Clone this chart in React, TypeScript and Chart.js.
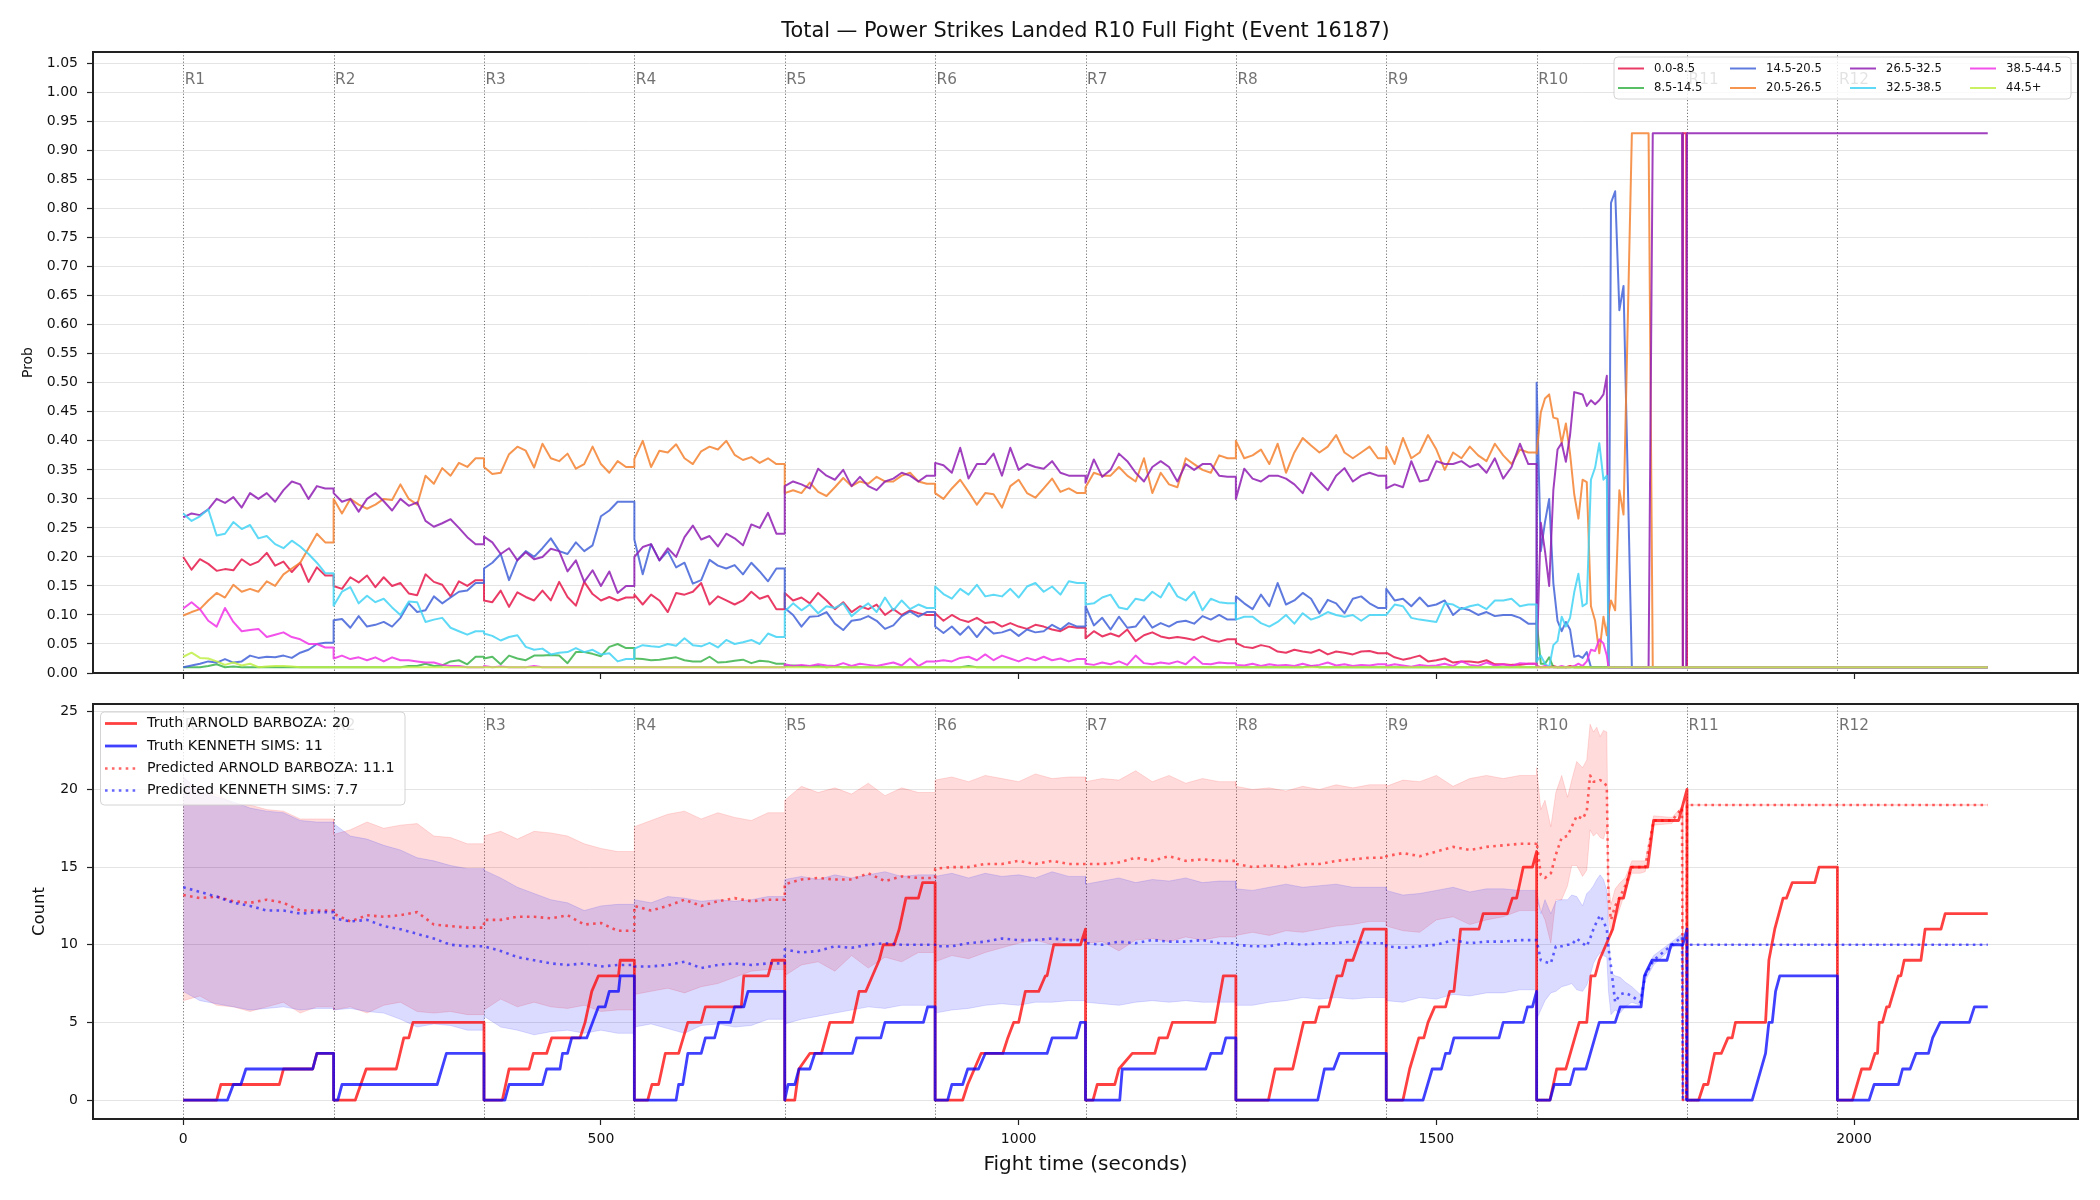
import { useEffect, useRef } from 'react';
import { Chart, registerables } from 'chart.js';

Chart.register(...registerables);

const FONT = "'DejaVu Sans', 'Liberation Sans', sans-serif";
Chart.defaults.font.family = FONT;

const W = 2100;
const H = 1200;
const ROUND_LEN = 180;

// ---- axes ----
const X_MIN = -108;
const X_MAX = 2268;
const timeTicks = [0, 500, 1000, 1500, 2000];
const probTicks = [0.0, 0.05, 0.1, 0.15, 0.2, 0.25, 0.3, 0.35, 0.4, 0.45, 0.5, 0.55, 0.6, 0.65, 0.7, 0.75, 0.8, 0.85, 0.9, 0.95, 1.0, 1.05];
const countTicks = [0, 5, 10, 15, 20, 25];
const roundStarts = [0, 180, 360, 540, 720, 900, 1080, 1260, 1440, 1620, 1800, 1980];
const roundNames = ['R1', 'R2', 'R3', 'R4', 'R5', 'R6', 'R7', 'R8', 'R9', 'R10', 'R11', 'R12'];

// ---- bin probabilities, R1..R9 sampled every 10 s (one row per round) ----
const prob0to8 = [
  [0.200, 0.178, 0.196, 0.188, 0.176, 0.179, 0.177, 0.196, 0.186, 0.192, 0.207, 0.185, 0.192, 0.174, 0.190, 0.157, 0.182, 0.168],
  [0.150, 0.145, 0.165, 0.156, 0.168, 0.148, 0.165, 0.150, 0.155, 0.137, 0.134, 0.170, 0.157, 0.152, 0.132, 0.158, 0.150, 0.160],
  [0.125, 0.122, 0.142, 0.114, 0.139, 0.131, 0.125, 0.142, 0.125, 0.157, 0.131, 0.116, 0.157, 0.136, 0.125, 0.131, 0.125, 0.130],
  [0.135, 0.118, 0.135, 0.125, 0.105, 0.138, 0.135, 0.140, 0.155, 0.118, 0.132, 0.125, 0.118, 0.125, 0.140, 0.128, 0.133, 0.110],
  [0.138, 0.125, 0.130, 0.120, 0.138, 0.125, 0.110, 0.122, 0.105, 0.115, 0.110, 0.118, 0.100, 0.110, 0.100, 0.108, 0.103, 0.100],
  [0.103, 0.090, 0.100, 0.092, 0.088, 0.095, 0.086, 0.088, 0.080, 0.086, 0.080, 0.076, 0.083, 0.080, 0.075, 0.072, 0.080, 0.078],
  [0.060, 0.072, 0.063, 0.068, 0.063, 0.075, 0.055, 0.065, 0.070, 0.063, 0.060, 0.062, 0.060, 0.057, 0.063, 0.057, 0.054, 0.058],
  [0.052, 0.045, 0.043, 0.048, 0.045, 0.037, 0.035, 0.040, 0.037, 0.035, 0.040, 0.032, 0.037, 0.035, 0.032, 0.037, 0.038, 0.034],
  [0.035, 0.027, 0.023, 0.026, 0.030, 0.020, 0.022, 0.025, 0.018, 0.020, 0.020, 0.018, 0.022, 0.015, 0.015, 0.014, 0.014, 0.016],
];
const prob8to14 = [
  [0.010, 0.010, 0.010, 0.012, 0.015, 0.010, 0.011, 0.010, 0.010, 0.010, 0.010, 0.010, 0.010, 0.010, 0.010, 0.010, 0.010, 0.010],
  [0.010, 0.010, 0.010, 0.010, 0.010, 0.010, 0.010, 0.010, 0.010, 0.012, 0.012, 0.016, 0.012, 0.013, 0.020, 0.022, 0.015, 0.028],
  [0.025, 0.028, 0.015, 0.030, 0.025, 0.022, 0.030, 0.030, 0.031, 0.030, 0.017, 0.036, 0.036, 0.033, 0.029, 0.045, 0.050, 0.043],
  [0.025, 0.024, 0.022, 0.023, 0.025, 0.027, 0.022, 0.020, 0.020, 0.028, 0.018, 0.019, 0.021, 0.023, 0.017, 0.021, 0.020, 0.016],
  [0.012, 0.013, 0.012, 0.011, 0.012, 0.010, 0.011, 0.010, 0.010, 0.010, 0.010, 0.010, 0.010, 0.010, 0.010, 0.010, 0.010, 0.010],
  [0.010, 0.010, 0.010, 0.010, 0.012, 0.010, 0.010, 0.010, 0.010, 0.010, 0.010, 0.010, 0.010, 0.010, 0.010, 0.010, 0.010, 0.010],
  [0.010, 0.010, 0.010, 0.010, 0.010, 0.010, 0.010, 0.010, 0.010, 0.010, 0.010, 0.010, 0.010, 0.010, 0.010, 0.010, 0.010, 0.010],
  [0.010, 0.010, 0.010, 0.010, 0.010, 0.010, 0.010, 0.010, 0.010, 0.012, 0.010, 0.010, 0.010, 0.010, 0.010, 0.010, 0.010, 0.010],
  [0.010, 0.010, 0.010, 0.010, 0.010, 0.010, 0.010, 0.010, 0.010, 0.010, 0.010, 0.010, 0.010, 0.010, 0.010, 0.010, 0.010, 0.010],
];
const prob14to20 = [
  [0.010, 0.013, 0.016, 0.020, 0.018, 0.024, 0.018, 0.020, 0.030, 0.026, 0.028, 0.027, 0.030, 0.026, 0.035, 0.040, 0.050, 0.052],
  [0.091, 0.093, 0.078, 0.098, 0.080, 0.083, 0.088, 0.080, 0.095, 0.120, 0.105, 0.108, 0.132, 0.120, 0.130, 0.140, 0.142, 0.155],
  [0.180, 0.190, 0.205, 0.160, 0.195, 0.210, 0.200, 0.215, 0.232, 0.210, 0.205, 0.225, 0.210, 0.220, 0.270, 0.280, 0.295, 0.295],
  [0.230, 0.170, 0.222, 0.194, 0.210, 0.182, 0.190, 0.154, 0.160, 0.195, 0.185, 0.180, 0.186, 0.170, 0.190, 0.175, 0.158, 0.180],
  [0.112, 0.100, 0.080, 0.097, 0.098, 0.105, 0.085, 0.074, 0.090, 0.092, 0.098, 0.090, 0.076, 0.082, 0.098, 0.106, 0.097, 0.105],
  [0.080, 0.069, 0.080, 0.066, 0.080, 0.062, 0.080, 0.068, 0.070, 0.075, 0.064, 0.075, 0.070, 0.072, 0.083, 0.075, 0.086, 0.080],
  [0.115, 0.082, 0.095, 0.075, 0.097, 0.078, 0.080, 0.098, 0.078, 0.086, 0.080, 0.088, 0.090, 0.085, 0.098, 0.092, 0.100, 0.092],
  [0.132, 0.120, 0.110, 0.135, 0.115, 0.155, 0.118, 0.125, 0.138, 0.128, 0.103, 0.126, 0.120, 0.103, 0.128, 0.132, 0.120, 0.112],
  [0.145, 0.125, 0.128, 0.115, 0.130, 0.115, 0.118, 0.125, 0.100, 0.112, 0.108, 0.100, 0.105, 0.098, 0.100, 0.100, 0.095, 0.085],
];
const prob20to26 = [
  [0.099, 0.105, 0.110, 0.125, 0.138, 0.130, 0.152, 0.140, 0.145, 0.140, 0.158, 0.150, 0.170, 0.180, 0.190, 0.215, 0.240, 0.225],
  [0.300, 0.275, 0.300, 0.290, 0.283, 0.290, 0.300, 0.298, 0.325, 0.300, 0.290, 0.340, 0.326, 0.353, 0.340, 0.362, 0.355, 0.370],
  [0.355, 0.343, 0.345, 0.377, 0.390, 0.383, 0.354, 0.395, 0.370, 0.365, 0.378, 0.352, 0.360, 0.390, 0.360, 0.345, 0.365, 0.355],
  [0.369, 0.400, 0.355, 0.383, 0.380, 0.394, 0.370, 0.360, 0.382, 0.390, 0.385, 0.400, 0.376, 0.367, 0.372, 0.362, 0.370, 0.360],
  [0.310, 0.315, 0.310, 0.328, 0.312, 0.305, 0.320, 0.336, 0.322, 0.330, 0.326, 0.338, 0.330, 0.330, 0.340, 0.345, 0.330, 0.326],
  [0.310, 0.300, 0.318, 0.333, 0.312, 0.290, 0.310, 0.308, 0.285, 0.322, 0.333, 0.310, 0.302, 0.318, 0.335, 0.312, 0.318, 0.310],
  [0.320, 0.345, 0.340, 0.340, 0.355, 0.340, 0.330, 0.370, 0.310, 0.345, 0.325, 0.320, 0.370, 0.360, 0.350, 0.345, 0.375, 0.370],
  [0.400, 0.370, 0.375, 0.385, 0.360, 0.395, 0.345, 0.380, 0.405, 0.392, 0.380, 0.390, 0.410, 0.380, 0.370, 0.380, 0.390, 0.370],
  [0.390, 0.360, 0.405, 0.370, 0.380, 0.410, 0.385, 0.350, 0.380, 0.370, 0.390, 0.375, 0.365, 0.395, 0.375, 0.360, 0.385, 0.380],
];
const prob26to32 = [
  [0.268, 0.275, 0.272, 0.282, 0.300, 0.293, 0.303, 0.285, 0.310, 0.300, 0.310, 0.295, 0.315, 0.330, 0.325, 0.300, 0.322, 0.318],
  [0.310, 0.295, 0.300, 0.278, 0.300, 0.310, 0.296, 0.280, 0.300, 0.288, 0.294, 0.262, 0.252, 0.258, 0.265, 0.250, 0.234, 0.222],
  [0.235, 0.225, 0.205, 0.215, 0.194, 0.208, 0.196, 0.200, 0.214, 0.210, 0.175, 0.194, 0.157, 0.177, 0.150, 0.175, 0.138, 0.150],
  [0.200, 0.217, 0.222, 0.194, 0.215, 0.200, 0.234, 0.254, 0.230, 0.236, 0.218, 0.240, 0.232, 0.220, 0.256, 0.250, 0.276, 0.240],
  [0.322, 0.330, 0.325, 0.318, 0.352, 0.340, 0.333, 0.350, 0.322, 0.338, 0.322, 0.315, 0.330, 0.335, 0.345, 0.340, 0.330, 0.340],
  [0.362, 0.358, 0.345, 0.388, 0.335, 0.360, 0.360, 0.378, 0.340, 0.388, 0.350, 0.360, 0.355, 0.352, 0.365, 0.345, 0.340, 0.340],
  [0.328, 0.368, 0.338, 0.350, 0.378, 0.365, 0.345, 0.330, 0.355, 0.365, 0.355, 0.330, 0.360, 0.350, 0.360, 0.360, 0.340, 0.338],
  [0.300, 0.352, 0.335, 0.330, 0.340, 0.340, 0.335, 0.325, 0.310, 0.345, 0.330, 0.315, 0.340, 0.353, 0.330, 0.340, 0.345, 0.340],
  [0.318, 0.325, 0.320, 0.365, 0.330, 0.333, 0.365, 0.360, 0.360, 0.365, 0.355, 0.360, 0.345, 0.370, 0.335, 0.355, 0.395, 0.360],
];
const prob32to38 = [
  [0.275, 0.262, 0.270, 0.282, 0.237, 0.240, 0.260, 0.248, 0.255, 0.232, 0.236, 0.222, 0.215, 0.228, 0.218, 0.205, 0.190, 0.172],
  [0.116, 0.140, 0.148, 0.120, 0.133, 0.122, 0.128, 0.113, 0.100, 0.123, 0.122, 0.088, 0.092, 0.095, 0.078, 0.072, 0.066, 0.072],
  [0.068, 0.064, 0.056, 0.062, 0.065, 0.045, 0.040, 0.042, 0.032, 0.035, 0.036, 0.043, 0.036, 0.040, 0.032, 0.034, 0.020, 0.024],
  [0.042, 0.048, 0.046, 0.045, 0.050, 0.047, 0.060, 0.048, 0.046, 0.052, 0.044, 0.057, 0.050, 0.053, 0.057, 0.050, 0.068, 0.062],
  [0.106, 0.120, 0.108, 0.118, 0.103, 0.115, 0.112, 0.120, 0.098, 0.110, 0.120, 0.105, 0.130, 0.108, 0.125, 0.110, 0.118, 0.112],
  [0.149, 0.136, 0.128, 0.145, 0.135, 0.152, 0.132, 0.135, 0.132, 0.145, 0.130, 0.149, 0.155, 0.140, 0.149, 0.135, 0.158, 0.155],
  [0.118, 0.120, 0.130, 0.135, 0.113, 0.110, 0.128, 0.125, 0.140, 0.130, 0.155, 0.132, 0.125, 0.140, 0.108, 0.128, 0.122, 0.120],
  [0.092, 0.097, 0.097, 0.086, 0.080, 0.088, 0.100, 0.085, 0.103, 0.092, 0.097, 0.105, 0.100, 0.097, 0.100, 0.090, 0.100, 0.100],
  [0.100, 0.118, 0.115, 0.095, 0.092, 0.090, 0.088, 0.120, 0.118, 0.110, 0.115, 0.118, 0.110, 0.125, 0.125, 0.128, 0.115, 0.118],
];
const prob38to44 = [
  [0.111, 0.122, 0.110, 0.090, 0.080, 0.112, 0.088, 0.072, 0.074, 0.076, 0.062, 0.066, 0.070, 0.062, 0.058, 0.050, 0.050, 0.044],
  [0.025, 0.030, 0.024, 0.027, 0.022, 0.027, 0.020, 0.027, 0.022, 0.022, 0.020, 0.018, 0.018, 0.014, 0.012, 0.012, 0.010, 0.010],
  [0.012, 0.010, 0.011, 0.010, 0.010, 0.010, 0.012, 0.010, 0.010, 0.010, 0.010, 0.010, 0.010, 0.010, 0.010, 0.010, 0.010, 0.010],
  [0.010, 0.010, 0.010, 0.010, 0.010, 0.010, 0.010, 0.010, 0.010, 0.010, 0.010, 0.010, 0.010, 0.010, 0.010, 0.010, 0.010, 0.010],
  [0.015, 0.012, 0.014, 0.012, 0.015, 0.013, 0.012, 0.017, 0.012, 0.016, 0.014, 0.012, 0.015, 0.018, 0.013, 0.025, 0.012, 0.020],
  [0.020, 0.022, 0.020, 0.026, 0.028, 0.022, 0.032, 0.022, 0.030, 0.025, 0.020, 0.026, 0.022, 0.028, 0.022, 0.025, 0.020, 0.024],
  [0.016, 0.014, 0.018, 0.015, 0.020, 0.014, 0.030, 0.017, 0.015, 0.018, 0.016, 0.020, 0.015, 0.028, 0.016, 0.015, 0.018, 0.017],
  [0.014, 0.013, 0.016, 0.012, 0.015, 0.013, 0.014, 0.012, 0.016, 0.012, 0.014, 0.018, 0.013, 0.015, 0.012, 0.014, 0.013, 0.015],
  [0.012, 0.015, 0.013, 0.011, 0.014, 0.012, 0.013, 0.016, 0.012, 0.020, 0.014, 0.012, 0.018, 0.013, 0.015, 0.012, 0.017, 0.016],
];
const prob44plus = [
  [0.028, 0.035, 0.026, 0.025, 0.020, 0.014, 0.018, 0.013, 0.016, 0.010, 0.011, 0.012, 0.012, 0.011, 0.010, 0.010, 0.010, 0.010],
  [0.010, 0.010, 0.010, 0.010, 0.010, 0.010, 0.010, 0.010, 0.010, 0.010, 0.010, 0.010, 0.010, 0.010, 0.010, 0.010, 0.010, 0.010],
  [0.010, 0.010, 0.010, 0.010, 0.010, 0.010, 0.010, 0.010, 0.010, 0.010, 0.010, 0.010, 0.010, 0.010, 0.010, 0.010, 0.010, 0.010],
  [0.010, 0.010, 0.010, 0.010, 0.010, 0.010, 0.010, 0.010, 0.010, 0.010, 0.010, 0.010, 0.010, 0.010, 0.010, 0.010, 0.010, 0.010],
  [0.010, 0.010, 0.010, 0.010, 0.010, 0.010, 0.010, 0.010, 0.010, 0.010, 0.010, 0.010, 0.010, 0.010, 0.010, 0.010, 0.010, 0.010],
  [0.010, 0.010, 0.010, 0.010, 0.010, 0.010, 0.010, 0.010, 0.010, 0.010, 0.010, 0.010, 0.010, 0.010, 0.010, 0.010, 0.010, 0.010],
  [0.010, 0.010, 0.010, 0.010, 0.010, 0.010, 0.010, 0.010, 0.010, 0.010, 0.010, 0.010, 0.010, 0.010, 0.010, 0.010, 0.010, 0.010],
  [0.010, 0.010, 0.010, 0.010, 0.010, 0.010, 0.010, 0.010, 0.010, 0.010, 0.010, 0.010, 0.010, 0.010, 0.010, 0.010, 0.010, 0.010],
  [0.010, 0.010, 0.010, 0.010, 0.010, 0.010, 0.010, 0.010, 0.010, 0.010, 0.010, 0.010, 0.010, 0.010, 0.010, 0.010, 0.010, 0.010],
];

// ---- R10 onwards, irregular timestamps ----
const lateTimes = [1620, 1625, 1630, 1635, 1640, 1645, 1650, 1655, 1660, 1665, 1670, 1675, 1680, 1685, 1690, 1695, 1700,
  1704, 1706, 1709, 1714, 1719, 1724, 1734, 1754, 1759, 1794, 1795, 1799, 1800, 2160];
const late0to8 = [0.012, 0.010, 0.010, 0.010, 0.012, 0.010, 0.010, 0.010, 0.012, 0.010, 0.010, 0.010, 0.010, 0.010, 0.010, 0.010, 0.010,
  0.010, 0.010, 0.010, 0.010, 0.010, 0.010, 0.010, 0.010, 0.010, 0.010, 0.930, 0.930, 0.010, 0.010];
const late8to14 = [0.090, 0.016, 0.016, 0.027, 0.010, 0.010, 0.010, 0.010, 0.010, 0.010, 0.010, 0.010, 0.010, 0.010, 0.010, 0.010, 0.010,
  0.010, 0.010, 0.010, 0.010, 0.010, 0.010, 0.010, 0.010, 0.010, 0.010, 0.010, 0.010, 0.010, 0.010];
const late14to20 = [0.500, 0.210, 0.260, 0.300, 0.155, 0.090, 0.072, 0.088, 0.075, 0.028, 0.030, 0.026, 0.036, 0.010, 0.010, 0.010, 0.010,
  0.010, 0.010, 0.810, 0.830, 0.625, 0.667, 0.010, 0.010, 0.010, 0.010, 0.010, 0.010, 0.010, 0.010];
const late20to26 = [0.378, 0.449, 0.473, 0.480, 0.440, 0.438, 0.396, 0.430, 0.378, 0.308, 0.266, 0.333, 0.329, 0.115, 0.090, 0.034, 0.097,
  0.065, 0.100, 0.125, 0.108, 0.315, 0.273, 0.930, 0.930, 0.010, 0.010, 0.010, 0.010, 0.010, 0.010];
const late26to32 = [0.020, 0.259, 0.210, 0.150, 0.315, 0.385, 0.396, 0.364, 0.410, 0.484, 0.482, 0.480, 0.460, 0.470, 0.463, 0.470, 0.480,
  0.512, 0.010, 0.010, 0.010, 0.010, 0.010, 0.010, 0.010, 0.930, 0.930, 0.010, 0.010, 0.930, 0.930];
const late32to38 = [0.020, 0.030, 0.016, 0.010, 0.048, 0.055, 0.097, 0.080, 0.095, 0.139, 0.171, 0.115, 0.120, 0.333, 0.354, 0.396, 0.333,
  0.340, 0.010, 0.010, 0.010, 0.010, 0.010, 0.010, 0.010, 0.010, 0.010, 0.010, 0.010, 0.010, 0.010];
const late38to44 = [0.010, 0.010, 0.012, 0.010, 0.010, 0.010, 0.012, 0.010, 0.010, 0.012, 0.016, 0.012, 0.020, 0.040, 0.038, 0.058, 0.051,
  0.030, 0.010, 0.010, 0.010, 0.010, 0.010, 0.010, 0.010, 0.010, 0.010, 0.010, 0.010, 0.010, 0.010];
const late44plus = [0.010, 0.010, 0.010, 0.010, 0.010, 0.010, 0.010, 0.010, 0.010, 0.010, 0.010, 0.010, 0.010, 0.010, 0.010, 0.010, 0.010,
  0.010, 0.010, 0.010, 0.010, 0.010, 0.010, 0.010, 0.010, 0.010, 0.010, 0.010, 0.010, 0.010, 0.010];

const binLabels = ['0.0-8.5', '8.5-14.5', '14.5-20.5', '20.5-26.5', '26.5-32.5', '32.5-38.5', '38.5-44.5', '44.5+'];
const binColors = [
  'rgba(230,25,75,0.85)', 'rgba(60,180,75,0.85)', 'rgba(67,99,216,0.85)', 'rgba(245,130,49,0.85)',
  'rgba(145,30,180,0.85)', 'rgba(66,212,244,0.85)', 'rgba(240,50,230,0.85)', 'rgba(191,239,69,0.85)',
];
const binRounds = [prob0to8, prob8to14, prob14to20, prob20to26, prob26to32, prob32to38, prob38to44, prob44plus];
const binLate = [late0to8, late8to14, late14to20, late20to26, late26to32, late32to38, late38to44, late44plus];

// ---- strike counts: prediction and band, R1..R9 every 20 s ----
const predArnold = [
  [13.2, 13.0, 13.1, 12.8, 12.7, 12.9, 12.7, 12.2, 12.2],
  [12.0, 11.5, 11.9, 11.8, 11.9, 12.1, 11.3, 11.2, 11.1],
  [11.6, 11.6, 11.8, 11.8, 11.7, 11.9, 11.3, 11.4, 10.9],
  [12.5, 12.2, 12.5, 12.9, 12.5, 12.8, 13.0, 12.8, 12.9],
  [13.9, 14.2, 14.3, 14.2, 14.2, 14.6, 14.1, 14.4, 14.3],
  [14.9, 15.0, 15.0, 15.2, 15.2, 15.4, 15.2, 15.4, 15.2],
  [15.2, 15.2, 15.3, 15.6, 15.4, 15.7, 15.4, 15.5, 15.4],
  [15.2, 15.0, 15.1, 15.0, 15.2, 15.2, 15.4, 15.5, 15.6],
  [15.7, 15.9, 15.7, 16.0, 16.3, 16.1, 16.3, 16.4, 16.5],
];
const predKenneth = [
  [13.7, 13.4, 13.1, 12.7, 12.5, 12.2, 12.2, 12.0, 12.1],
  [11.7, 11.5, 11.6, 11.2, 11.0, 10.7, 10.4, 10.0, 9.9],
  [9.9, 9.6, 9.2, 9.0, 8.8, 8.7, 8.8, 8.6, 8.7],
  [8.6, 8.6, 8.7, 8.9, 8.5, 8.7, 8.8, 8.7, 8.8],
  [9.7, 9.5, 9.6, 9.9, 9.8, 10.0, 10.1, 10.0, 10.0],
  [9.9, 9.9, 10.1, 10.2, 10.4, 10.3, 10.3, 10.4, 10.3],
  [10.1, 10.0, 10.2, 10.1, 10.3, 10.2, 10.2, 10.3, 10.1],
  [10.0, 9.9, 9.9, 10.1, 10.0, 10.1, 10.1, 10.2, 10.1],
  [9.9, 9.8, 9.9, 10.0, 10.3, 10.1, 10.2, 10.2, 10.3],
];
const arnoldUpper = [
  [20.8, 19.8, 19.7, 19.1, 19.0, 18.7, 18.6, 18.1, 18.1],
  [17.1, 17.4, 17.9, 17.5, 17.7, 17.8, 17.0, 16.9, 16.5],
  [17.0, 17.3, 16.8, 17.3, 17.2, 17.0, 16.5, 16.2, 16.0],
  [17.6, 18.0, 18.4, 18.6, 18.1, 18.5, 18.2, 18.0, 18.5],
  [19.3, 20.2, 19.8, 20.1, 19.7, 20.4, 19.6, 20.1, 19.8],
  [20.6, 20.8, 20.5, 20.9, 20.7, 20.5, 21.0, 20.7, 20.8],
  [20.5, 20.7, 20.6, 21.2, 20.5, 20.9, 20.4, 20.7, 20.5],
  [20.2, 20.0, 20.1, 19.9, 20.2, 20.0, 20.3, 20.1, 20.3],
  [20.2, 20.6, 20.5, 20.9, 20.2, 20.7, 20.9, 20.7, 20.9],
];
const arnoldLower = [
  [6.4, 6.7, 6.1, 6.0, 5.7, 6.0, 6.3, 5.6, 6.0],
  [5.8, 6.0, 5.6, 6.1, 6.3, 5.7, 5.6, 5.7, 5.5],
  [5.8, 6.5, 6.0, 6.3, 6.0, 5.9, 6.1, 5.7, 5.8],
  [6.8, 7.0, 7.2, 6.9, 7.3, 7.5, 7.9, 8.3, 8.4],
  [8.0, 8.7, 8.9, 8.3, 9.3, 8.5, 9.2, 8.9, 9.5],
  [8.9, 9.3, 9.1, 9.5, 9.8, 10.1, 10.3, 10.0, 10.3],
  [10.1, 10.2, 9.6, 10.3, 10.4, 10.2, 10.5, 10.3, 10.5],
  [10.6, 10.8, 10.6, 10.9, 10.8, 11.0, 11.2, 11.3, 11.5],
  [11.2, 10.9, 10.8, 11.6, 11.8, 11.3, 11.6, 11.8, 12.2],
];
const kennethUpper = [
  [20.8, 19.9, 19.5, 19.2, 18.8, 18.6, 18.5, 18.0, 17.9],
  [17.8, 17.0, 16.8, 16.4, 16.1, 15.6, 15.4, 15.1, 14.9],
  [14.8, 14.3, 13.7, 13.3, 12.9, 12.7, 12.2, 12.5, 12.6],
  [12.9, 12.7, 13.1, 13.0, 12.8, 12.9, 12.8, 12.9, 13.1],
  [14.2, 14.4, 14.2, 14.5, 14.3, 14.5, 14.7, 14.4, 14.5],
  [14.4, 14.6, 14.3, 14.6, 14.4, 14.5, 14.3, 14.7, 14.4],
  [13.9, 14.1, 14.3, 14.0, 14.2, 14.1, 14.3, 14.0, 14.1],
  [13.6, 13.5, 13.7, 13.9, 13.7, 13.8, 13.9, 13.7, 13.7],
  [13.5, 13.2, 13.3, 13.5, 13.7, 13.4, 13.6, 13.6, 13.5],
];
const kennethLower = [
  [7.0, 6.4, 6.2, 6.0, 5.8, 5.9, 6.0, 5.8, 5.9],
  [5.8, 5.9, 5.7, 5.6, 5.2, 4.7, 4.9, 4.8, 4.5],
  [5.4, 4.7, 4.5, 4.2, 4.4, 4.5, 4.3, 4.5, 4.3],
  [4.7, 4.9, 4.6, 4.3, 4.8, 4.9, 4.7, 4.8, 5.2],
  [4.9, 5.2, 5.4, 5.6, 5.8, 6.0, 5.9, 6.1, 6.1],
  [5.6, 5.8, 5.9, 6.1, 6.2, 6.1, 6.3, 6.3, 6.4],
  [6.3, 6.2, 6.1, 6.3, 6.4, 6.3, 6.4, 6.3, 6.3],
  [6.1, 6.1, 6.3, 6.4, 6.6, 6.5, 6.6, 6.5, 6.6],
  [6.4, 6.3, 6.6, 6.5, 6.8, 6.7, 6.9, 6.9, 7.1],
];

// R10 onwards for the count panel
const lateCountTimes = [1620, 1625, 1630, 1637, 1643, 1650, 1657, 1662, 1668, 1675, 1680, 1684, 1688, 1692, 1696, 1700,
  1704, 1706, 1709, 1714, 1720, 1726, 1734, 1744, 1750, 1760, 1782, 1794, 1795, 1799, 1800, 2160];
const predArnoldLate = [16.6, 14.5, 14.3, 14.6, 15.8, 16.9, 17.0, 17.6, 18.3, 18.1, 18.6, 20.9, 20.5, 20.5, 20.6, 20.5,
  20.2, 13.0, 11.6, 12.5, 13.1, 13.8, 15.0, 15.0, 15.0, 18.0, 18.0, 18.8, 0, 0, 19.0, 19.0];
const predKennethLate = [10.3, 9.0, 8.9, 8.8, 9.9, 9.9, 10.0, 10.0, 10.4, 10.1, 9.9, 10.4, 11.0, 11.5, 11.9, 11.5,
  11.0, 9.8, 8.6, 6.3, 6.8, 6.9, 6.7, 6.3, 8.0, 9.0, 10.0, 10.5, 0, 0, 10.0, 10.0];
const arnoldUpperLate = [21.4, 18.7, 19.3, 17.6, 19.8, 20.9, 19.5, 20.6, 21.8, 21.4, 21.9, 24.2, 23.7, 24.0, 23.4, 23.8,
  23.7, 14.0, 12.6, 13.6, 14.0, 14.3, 15.4, 15.4, 15.4, 18.3, 18.2, 18.9, 0, 0, 19.0, 19.0];
const arnoldLowerLate = [12.9, 12.2, 11.6, 10.1, 12.9, 12.9, 13.8, 15.1, 15.1, 14.4, 14.8, 17.4, 17.0, 17.2, 16.9, 16.8,
  17.6, 11.8, 10.6, 11.5, 12.4, 13.4, 14.6, 14.6, 14.7, 17.7, 17.8, 18.7, 0, 0, 19.0, 19.0];
const kennethUpperLate = [13.5, 12.0, 12.9, 12.0, 12.8, 12.9, 12.9, 13.2, 13.1, 12.5, 13.3, 13.5, 13.8, 14.2, 14.5, 14.2,
  13.5, 11.0, 8.2, 8.0, 7.9, 7.6, 7.3, 6.8, 8.3, 9.3, 10.2, 10.7, 0, 0, 10.0, 10.0];
const kennethLowerLate = [5.2, 5.8, 6.4, 6.9, 7.0, 7.3, 7.4, 7.5, 7.1, 7.0, 7.4, 8.0, 8.8, 9.2, 9.5, 9.3,
  9.2, 7.0, 5.5, 5.8, 5.6, 6.0, 6.3, 6.1, 7.7, 8.7, 9.8, 10.3, 0, 0, 10.0, 10.0];

// ---- cumulative landed strikes per round: [seconds, count] ----
const truthArnold = [
  [0, 0], [40, 0], [45, 1], [115, 1], [120, 2], [155, 2], [160, 3], [180, 3],
  [180, 0], [206, 0], [219, 2], [255, 2], [264, 4], [270, 4], [275, 5], [360, 5],
  [360, 0], [382, 0], [390, 2], [414, 2], [419, 3], [435, 3], [441, 4], [475, 4], [481, 5], [489, 7], [497, 8], [521, 8], [523, 9], [540, 9],
  [540, 0], [556, 0], [561, 1], [569, 1], [577, 3], [593, 3], [604, 5], [620, 5], [625, 6], [668, 6], [671, 8], [700, 8], [705, 9], [720, 9],
  [720, 0], [732, 0], [737, 2], [750, 3], [764, 3], [769, 4], [774, 5], [801, 5], [809, 7], [817, 7], [825, 8], [833, 9], [838, 10], [851, 10], [857, 11], [865, 13], [880, 13], [885, 14], [900, 14],
  [900, 0], [933, 0], [939, 1], [947, 2], [955, 3], [981, 3], [987, 4], [994, 5], [1000, 5], [1008, 7], [1024, 7], [1032, 8], [1034, 8], [1042, 10], [1074, 10], [1080, 11],
  [1080, 0], [1089, 0], [1094, 1], [1115, 1], [1120, 2], [1136, 3], [1163, 3], [1168, 4], [1178, 4], [1184, 5], [1235, 5], [1245, 8], [1260, 8],
  [1260, 0], [1299, 0], [1307, 2], [1328, 2], [1341, 5], [1355, 5], [1360, 6], [1371, 6], [1381, 8], [1387, 8], [1392, 9], [1400, 9], [1413, 11], [1440, 11],
  [1440, 0], [1460, 0], [1468, 2], [1479, 4], [1485, 4], [1490, 5], [1498, 6], [1511, 6], [1516, 7], [1521, 7], [1529, 11], [1551, 11], [1556, 12], [1585, 12], [1591, 13], [1596, 13], [1604, 15], [1615, 15], [1620, 16],
  [1620, 0], [1636, 0], [1644, 2], [1655, 2], [1671, 5], [1680, 5], [1685, 8], [1690, 8], [1695, 9], [1703, 10], [1711, 11], [1719, 13], [1724, 13], [1733, 15], [1753, 15], [1760, 18], [1790, 18], [1800, 20],
  [1800, 0], [1814, 0], [1820, 1], [1825, 1], [1833, 3], [1841, 3], [1849, 4], [1854, 4], [1858, 5], [1894, 5], [1898, 9], [1905, 11], [1915, 13], [1919, 13], [1926, 14], [1953, 14], [1958, 15], [1980, 15],
  [1980, 0], [1998, 0], [2009, 2], [2019, 2], [2025, 3], [2028, 3], [2030, 5], [2034, 5], [2039, 6], [2042, 6], [2053, 8], [2056, 8], [2060, 9], [2080, 9], [2085, 11], [2104, 11], [2109, 12], [2160, 12],
];
const truthKenneth = [
  [0, 0], [53, 0], [60, 1], [69, 1], [75, 2], [155, 2], [160, 3], [180, 3],
  [180, 0], [185, 0], [190, 1], [304, 1], [315, 3], [360, 3],
  [360, 0], [385, 0], [390, 1], [430, 1], [435, 2], [451, 2], [454, 3], [460, 3], [465, 4], [483, 4], [497, 6], [505, 6], [510, 7], [521, 7], [523, 8], [540, 8],
  [540, 0], [590, 0], [593, 1], [598, 1], [604, 3], [620, 3], [625, 4], [636, 4], [641, 5], [655, 5], [660, 6], [671, 6], [676, 7], [720, 7],
  [720, 0], [724, 1], [732, 1], [737, 2], [750, 2], [756, 3], [801, 3], [806, 4], [835, 4], [840, 5], [886, 5], [891, 6], [900, 6],
  [900, 0], [915, 0], [920, 1], [933, 1], [939, 2], [952, 2], [960, 3], [1034, 3], [1040, 4], [1069, 4], [1074, 5], [1080, 5],
  [1080, 0], [1121, 0], [1124, 2], [1224, 2], [1230, 3], [1243, 3], [1248, 4], [1260, 4],
  [1260, 0], [1358, 0], [1366, 2], [1377, 2], [1384, 3], [1440, 3],
  [1440, 0], [1484, 0], [1495, 2], [1506, 2], [1511, 3], [1516, 3], [1521, 4], [1575, 4], [1580, 5], [1604, 5], [1609, 6], [1615, 6], [1620, 7],
  [1620, 0], [1636, 0], [1641, 1], [1660, 1], [1665, 2], [1679, 2], [1695, 5], [1714, 5], [1720, 6], [1745, 6], [1749, 8], [1758, 9], [1776, 9], [1781, 10], [1795, 10], [1800, 11],
  [1800, 0], [1878, 0], [1894, 3], [1898, 5], [1902, 5], [1906, 7], [1911, 8], [1980, 8],
  [1980, 0], [2018, 0], [2024, 1], [2053, 1], [2058, 2], [2067, 2], [2074, 3], [2089, 3], [2094, 4], [2103, 5], [2138, 5], [2144, 6], [2160, 6],
];

const fighterA = 'ARNOLD BARBOZA';
const fighterB = 'KENNETH SIMS';
const totalA = 20;
const totalB = 11;
const predictedA = 11.1;
const predictedB = 7.7;

// ---- helpers ----
type Pt = { x: number; y: number };

// each round's samples, holding the last value up to the bell
function holdRounds(rows: number[][], step: number): Pt[] {
  const pts: Pt[] = [];
  rows.forEach((row, r) => {
    const start = r * ROUND_LEN;
    row.forEach((v, k) => pts.push({ x: start + k * step, y: v }));
    pts.push({ x: start + ROUND_LEN, y: row[row.length - 1] });
  });
  return pts;
}
function appendLate(pts: Pt[], times: number[], vals: number[]): Pt[] {
  return pts.concat(times.map((t, i) => ({ x: t, y: vals[i] })));
}
function fromPairs(p: number[][]): Pt[] {
  return p.map(([x, y]) => ({ x, y }));
}

const TICK_COLOR = '#222';
const GRID_COLOR = '#e4e4e4';

function drawRoundLines(chart: any) {
  const { ctx, chartArea, scales } = chart;
  ctx.save();
  ctx.strokeStyle = 'rgba(70,70,70,0.75)';
  ctx.lineWidth = 1;
  ctx.setLineDash([1.2, 2]);
  roundStarts.forEach((t) => {
    const px = Math.round(scales.x.getPixelForValue(t)) + 0.5;
    ctx.beginPath();
    ctx.moveTo(px, chartArea.top);
    ctx.lineTo(px, chartArea.bottom);
    ctx.stroke();
  });
  ctx.restore();
}

function drawRoundLabels(chart: any, baseline: number) {
  const { ctx, scales } = chart;
  ctx.save();
  ctx.font = `15.3px ${FONT}`;
  ctx.fillStyle = 'rgba(0,0,0,0.56)';
  ctx.textAlign = 'left';
  ctx.textBaseline = 'alphabetic';
  roundStarts.forEach((t, i) => {
    const px = scales.x.getPixelForValue(t);
    ctx.fillText(roundNames[i], px + 1.5, baseline);
  });
  ctx.restore();
}

function legendBox(ctx: CanvasRenderingContext2D, x: number, y: number, w: number, h: number) {
  ctx.save();
  ctx.beginPath();
  ctx.roundRect(x, y, w, h, 4);
  ctx.fillStyle = 'rgba(255,255,255,0.8)';
  ctx.fill();
  ctx.strokeStyle = 'rgba(204,204,204,0.85)';
  ctx.lineWidth = 1;
  ctx.stroke();
  ctx.restore();
}

function drawFrame(chart: any) {
  const { ctx, chartArea } = chart;
  ctx.save();
  ctx.strokeStyle = '#222';
  ctx.lineWidth = 2;
  ctx.strokeRect(chartArea.left, chartArea.top, chartArea.right - chartArea.left, chartArea.bottom - chartArea.top);
  ctx.restore();
}

function drawRotated(ctx: CanvasRenderingContext2D, text: string, x: number, y: number, size: number) {
  ctx.save();
  ctx.translate(x, y);
  ctx.rotate(-Math.PI / 2);
  ctx.font = `${size}px ${FONT}`;
  ctx.fillStyle = '#111';
  ctx.textAlign = 'center';
  ctx.textBaseline = 'middle';
  ctx.fillText(text, 0, 0);
  ctx.restore();
}

const topDecor = {
  id: 'topDecor',
  beforeDatasetsDraw(chart: any) {
    drawRoundLines(chart);
  },
  afterDatasetsDraw(chart: any) {
    const ctx = chart.ctx as CanvasRenderingContext2D;
    drawRoundLabels(chart, 84);
    legendBox(ctx, 1614, 57, 457, 42);
    const colX = [1618, 1730, 1850, 1970];
    const rowY = [68.5, 88];
    ctx.save();
    ctx.font = `11.6px ${FONT}`;
    ctx.textAlign = 'left';
    ctx.textBaseline = 'middle';
    binLabels.forEach((label, i) => {
      const x = colX[Math.floor(i / 2)];
      const y = rowY[i % 2];
      ctx.strokeStyle = binColors[i];
      ctx.lineWidth = 2;
      ctx.beginPath();
      ctx.moveTo(x, y);
      ctx.lineTo(x + 26, y);
      ctx.stroke();
      ctx.fillStyle = '#111';
      ctx.fillText(label, x + 36, y);
    });
    ctx.restore();
  },
  afterDraw(chart: any) {
    const ctx = chart.ctx as CanvasRenderingContext2D;
    const { chartArea } = chart;
    drawFrame(chart);
    ctx.save();
    ctx.font = `20.8px ${FONT}`;
    ctx.fillStyle = '#111';
    ctx.textAlign = 'center';
    ctx.textBaseline = 'alphabetic';
    ctx.fillText('Total \u2014 Power Strikes Landed R10 Full Fight (Event 16187)', (chartArea.left + chartArea.right) / 2, 37);
    ctx.restore();
    drawRotated(ctx, 'Prob', 28.6, (chartArea.top + chartArea.bottom) / 2, 13.9);
  },
};

const bottomLegend = [
  { label: `Truth ${fighterA}: ${totalA}`, color: 'rgba(255,0,0,0.75)', width: 2.8, dash: [] as number[] },
  { label: `Truth ${fighterB}: ${totalB}`, color: 'rgba(0,0,255,0.75)', width: 2.8, dash: [] as number[] },
  { label: `Predicted ${fighterA}: ${predictedA}`, color: 'rgba(255,0,0,0.6)', width: 2.6, dash: [2.6, 4.3] },
  { label: `Predicted ${fighterB}: ${predictedB}`, color: 'rgba(0,0,255,0.6)', width: 2.6, dash: [2.6, 4.3] },
];

const bottomDecor = {
  id: 'bottomDecor',
  beforeDatasetsDraw(chart: any) {
    drawRoundLines(chart);
  },
  afterDatasetsDraw(chart: any) {
    const ctx = chart.ctx as CanvasRenderingContext2D;
    drawRoundLabels(chart, 730);
    legendBox(ctx, 100.5, 712, 304.5, 93);
    const rowY = [723.5, 746, 768.5, 790.5];
    ctx.save();
    ctx.font = `14.3px ${FONT}`;
    ctx.textAlign = 'left';
    ctx.textBaseline = 'middle';
    bottomLegend.forEach((item, i) => {
      const y = rowY[i];
      ctx.strokeStyle = item.color;
      ctx.lineWidth = item.width;
      ctx.setLineDash(item.dash);
      ctx.beginPath();
      ctx.moveTo(105, y);
      ctx.lineTo(137, y);
      ctx.stroke();
      ctx.setLineDash([]);
      ctx.fillStyle = '#111';
      ctx.fillText(item.label, 147, y);
    });
    ctx.restore();
  },
  afterDraw(chart: any) {
    const ctx = chart.ctx as CanvasRenderingContext2D;
    const { chartArea } = chart;
    drawFrame(chart);
    ctx.save();
    ctx.font = `20px ${FONT}`;
    ctx.fillStyle = '#111';
    ctx.textAlign = 'center';
    ctx.textBaseline = 'alphabetic';
    ctx.fillText('Fight time (seconds)', (chartArea.left + chartArea.right) / 2, 1170);
    ctx.restore();
    drawRotated(ctx, 'Count', 40, (chartArea.top + chartArea.bottom) / 2, 16.5);
  },
};

function xScale(showLabels: boolean, height: number) {
  return {
    type: 'linear',
    min: X_MIN,
    max: X_MAX,
    afterBuildTicks: (axis: any) => {
      axis.ticks = timeTicks.map((v) => ({ value: v }));
    },
    afterFit: (scale: any) => {
      scale.height = height;
    },
    ticks: {
      display: showLabels,
      font: { family: FONT, size: 14 },
      color: '#111',
      padding: 6,
      maxRotation: 0,
      autoSkip: false,
      callback: (v: any) => String(Math.round(Number(v))),
    },
    grid: { display: true, drawOnChartArea: false, drawTicks: true, tickLength: 6, tickColor: TICK_COLOR, tickWidth: 1.2 },
    border: { display: false },
  };
}

function yScale(min: number, max: number, ticks: number[], fmt: (v: number) => string) {
  return {
    type: 'linear',
    min,
    max,
    afterBuildTicks: (axis: any) => {
      axis.ticks = ticks.map((v) => ({ value: v }));
    },
    afterFit: (scale: any) => {
      scale.width = 93;
    },
    ticks: {
      font: { family: FONT, size: 14 },
      color: '#111',
      padding: 9,
      autoSkip: false,
      callback: (v: any) => fmt(Number(v)),
    },
    grid: { color: GRID_COLOR, lineWidth: 1, drawTicks: true, tickLength: 6, tickColor: TICK_COLOR, tickWidth: 1.2 },
    border: { display: false },
  };
}

function topConfig(): any {
  const datasets = binLabels.map((label, i) => ({
    label,
    data: appendLate(holdRounds(binRounds[i], 10), lateTimes, binLate[i]),
    borderColor: binColors[i],
    borderWidth: 2,
    borderJoinStyle: 'round',
    pointRadius: 0,
    fill: false,
    tension: 0,
    order: 7 - i,
  }));
  return {
    type: 'line',
    data: { datasets },
    options: {
      responsive: false,
      animation: false,
      devicePixelRatio: 1,
      events: [],
      parsing: false,
      layout: { padding: { top: 52, left: 0, right: 22, bottom: H - 673 - 17 } },
      plugins: { legend: { display: false }, title: { display: false }, tooltip: { enabled: false } },
      scales: {
        x: xScale(false, 17),
        y: yScale(0, 1.07, probTicks, (v) => v.toFixed(2)),
      },
    },
    plugins: [topDecor],
  };
}

function bottomConfig(): any {
  const band = (upper: Pt[], lower: Pt[], rgb: string, orderBase: number) => [
    {
      label: 'upper',
      data: upper,
      borderColor: `rgba(${rgb},0.13)`,
      borderWidth: 1,
      borderJoinStyle: 'round',
      backgroundColor: `rgba(${rgb},0.14)`,
      pointRadius: 0,
      tension: 0,
      fill: '+1',
      order: orderBase + 1,
    },
    {
      label: 'lower',
      data: lower,
      borderColor: `rgba(${rgb},0.13)`,
      borderWidth: 1,
      borderJoinStyle: 'round',
      pointRadius: 0,
      tension: 0,
      fill: false,
      order: orderBase,
    },
  ];
  const datasets = [
    ...band(
      appendLate(holdRounds(arnoldUpper, 20), lateCountTimes, arnoldUpperLate),
      appendLate(holdRounds(arnoldLower, 20), lateCountTimes, arnoldLowerLate),
      '255,0,0',
      6,
    ),
    ...band(
      appendLate(holdRounds(kennethUpper, 20), lateCountTimes, kennethUpperLate),
      appendLate(holdRounds(kennethLower, 20), lateCountTimes, kennethLowerLate),
      '0,0,255',
      4,
    ),
    {
      label: 'truthA',
      data: fromPairs(truthArnold),
      borderColor: 'rgba(255,0,0,0.75)',
      borderWidth: 2.8,
      borderJoinStyle: 'round',
      pointRadius: 0,
      tension: 0,
      fill: false,
      order: 3,
    },
    {
      label: 'truthB',
      data: fromPairs(truthKenneth),
      borderColor: 'rgba(0,0,255,0.75)',
      borderWidth: 2.8,
      borderJoinStyle: 'round',
      pointRadius: 0,
      tension: 0,
      fill: false,
      order: 2,
    },
    {
      label: 'predA',
      data: appendLate(holdRounds(predArnold, 20), lateCountTimes, predArnoldLate),
      borderColor: 'rgba(255,0,0,0.6)',
      borderWidth: 2.6,
      borderDash: [2.6, 4.3],
      borderJoinStyle: 'round',
      pointRadius: 0,
      tension: 0,
      fill: false,
      order: 1,
    },
    {
      label: 'predB',
      data: appendLate(holdRounds(predKenneth, 20), lateCountTimes, predKennethLate),
      borderColor: 'rgba(0,0,255,0.6)',
      borderWidth: 2.6,
      borderDash: [2.6, 4.3],
      borderJoinStyle: 'round',
      pointRadius: 0,
      tension: 0,
      fill: false,
      order: 0,
    },
  ];
  return {
    type: 'line',
    data: { datasets },
    options: {
      responsive: false,
      animation: false,
      devicePixelRatio: 1,
      events: [],
      parsing: false,
      layout: { padding: { top: 704, left: 0, right: 22, bottom: 0 } },
      plugins: { legend: { display: false }, title: { display: false }, tooltip: { enabled: false } },
      scales: {
        x: xScale(true, 81),
        y: yScale(-1.22, 25.5, countTicks, (v) => String(Math.round(v))),
      },
    },
    plugins: [bottomDecor],
  };
}

export default function App() {
  const topRef = useRef<HTMLCanvasElement>(null);
  const bottomRef = useRef<HTMLCanvasElement>(null);

  useEffect(() => {
    const bottom = new Chart(bottomRef.current as HTMLCanvasElement, bottomConfig());
    const top = new Chart(topRef.current as HTMLCanvasElement, topConfig());
    return () => {
      top.destroy();
      bottom.destroy();
    };
  }, []);

  const canvasStyle: any = { position: 'absolute', left: 0, top: 0, width: W, height: H };
  return (
    <div style={{ position: 'absolute', left: 0, top: 0, width: W, height: H, background: '#fff', overflow: 'hidden' }}>
      <canvas ref={bottomRef} width={W} height={H} style={canvasStyle} />
      <canvas ref={topRef} width={W} height={H} style={canvasStyle} />
    </div>
  );
}
